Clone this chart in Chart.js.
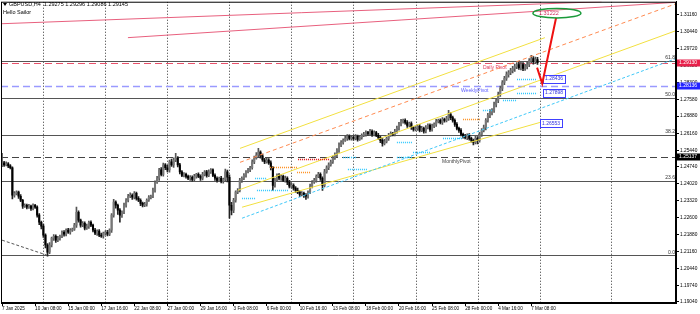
<!DOCTYPE html>
<html><head><meta charset="utf-8">
<script src="https://cdn.jsdelivr.net/npm/chart.js@4.4.1/dist/chart.umd.min.js"></script>
<style>html,body{margin:0;padding:0;background:#fff;overflow:hidden}canvas{display:block}</style>
</head><body>
<canvas id="c" width="700" height="314"></canvas>
<script>
// ---------- DATA ----------
const firstOpen = 1.2480;
const closes = [
 1.2491,1.2482,1.2487,1.2478,1.2470,1.2354,1.2362,1.2367,1.2350,1.2333,1.2308,1.2312,1.2304,1.2308,1.2299,1.2312,1.2304,1.2270,1.2240,1.2224,
 1.2186,1.2144,1.2114,1.2144,1.2173,1.2181,1.2165,1.2173,1.2181,1.2198,1.2190,1.2207,1.2198,1.2207,1.2211,1.2228,1.2282,1.2249,1.2228,1.2236,1.2215,1.2224,1.2240,1.2228,1.2207,1.2194,1.2203,1.2186,1.2181,1.2194,
 1.2198,1.2190,1.2207,1.2270,1.2325,1.2312,1.2291,1.2270,1.2282,1.2312,1.2333,1.2350,1.2354,1.2346,1.2362,1.2341,1.2333,1.2320,1.2312,1.2316,1.2333,1.2346,1.2350,1.2375,1.2409,1.2426,1.2461,1.2442,1.2482,1.2470,
 1.2461,1.2495,1.2482,1.2503,1.2511,1.2482,1.2453,1.2438,1.2442,1.2434,1.2426,1.2430,1.2421,1.2434,1.2442,1.2434,1.2426,1.2442,1.2453,1.2438,1.2453,1.2461,1.2438,1.2426,1.2417,1.2426,1.2413,1.2421,1.2453,1.2430,
 1.2312,1.2291,1.2333,1.2367,1.2375,1.2417,1.2426,1.2438,1.2453,1.2461,1.2470,1.2495,1.2511,1.2524,1.2536,1.2520,1.2503,1.2495,1.2503,1.2491,1.2470,1.2396,1.2417,1.2438,1.2426,1.2434,1.2417,1.2426,1.2409,1.2392,
 1.2396,1.2384,1.2375,1.2367,1.2358,1.2362,1.2354,1.2350,1.2367,1.2392,1.2409,1.2417,1.2434,1.2442,1.2426,1.2396,1.2453,1.2470,1.2482,1.2495,1.2511,1.2524,1.2544,1.2565,1.2577,1.2586,1.2594,1.2603,1.2594,1.2598,
 1.2594,1.2603,1.2590,1.2598,1.2607,1.2611,1.2619,1.2615,1.2624,1.2611,1.2619,1.2607,1.2598,1.2586,1.2573,1.2581,1.2594,1.2607,1.2615,1.2611,1.2624,1.2636,1.2653,1.2666,1.2670,1.2661,1.2649,1.2657,1.2640,1.2632,
 1.2636,1.2645,1.2628,1.2636,1.2624,1.2640,1.2649,1.2632,1.2645,1.2653,1.2666,1.2670,1.2661,1.2674,1.2670,1.2678,1.2695,1.2682,1.2670,1.2653,1.2636,1.2628,1.2611,1.2603,1.2598,1.2607,1.2594,1.2586,1.2577,1.2594,
 1.2586,1.2611,1.2628,1.2640,1.2670,1.2691,1.2704,1.2712,1.2737,1.2754,1.2779,1.2805,1.2830,1.2847,1.2863,1.2872,1.2880,1.2889,1.2897,1.2906,1.2893,1.2906,1.2889,1.2897,1.2906,1.2922,1.2931,1.2918,1.2927,1.2914
];
// wick lengths above / below the body, in pips
const wickUpPips = [
 40,6,8,5,6,4,8,6,5,7,4,6,5,8,5,6,4,5,7,5,
 8,5,6,10,5,7,6,8,5,6,7,5,8,6,5,8,22,6,5,7,6,8,5,6,4,7,5,6,8,5,
 6,8,5,7,12,6,5,7,6,9,7,8,10,6,8,5,7,6,5,8,6,7,5,9,6,8,7,10,8,6,
 10,8,12,9,20,6,7,5,8,6,5,7,6,8,5,7,6,9,5,6,8,6,5,7,6,5,8,6,12,7,
 10,12,8,6,7,9,6,8,5,7,6,9,8,10,16,6,8,7,9,6,8,5,10,6,8,7,5,9,6,8,
 8,6,7,9,6,8,5,7,6,9,7,8,6,9,7,6,10,8,9,7,8,9,7,10,8,6,9,7,6,8,
 6,7,5,8,6,9,7,5,8,6,7,5,8,6,7,9,6,8,7,5,8,10,9,8,6,7,8,6,7,5,
 8,6,7,9,6,8,7,6,9,7,8,6,7,8,6,9,17,8,6,7,8,6,7,5,8,6,7,6,5,9,
 8,9,7,10,8,9,12,8,10,9,11,10,8,9,12,8,10,9,11,8,10,9,8,10,12,9,14,8,10,9
];
const wickDnPips = [
 5,6,4,7,5,15,8,6,9,6,10,5,8,6,9,7,6,8,10,12,
 10,12,17,6,8,9,10,7,8,6,9,7,5,8,6,5,10,8,9,6,7,5,10,6,8,6,9,7,5,8,
 8,7,6,10,8,12,18,30,9,6,8,7,6,9,7,8,6,10,7,6,8,5,7,6,8,5,9,6,7,8,
 8,9,6,10,7,8,9,6,7,8,6,9,7,5,8,6,9,7,6,8,5,7,6,9,8,6,7,8,6,20,
 55,20,10,8,6,7,9,6,8,5,7,6,8,5,7,9,6,8,5,7,9,20,8,6,7,9,6,8,10,7,
 7,8,9,6,10,7,9,13,8,6,7,5,8,6,9,21,7,6,8,5,7,6,8,9,6,7,5,8,6,7,
 7,6,8,5,7,6,8,7,6,9,7,6,8,10,12,7,6,8,5,7,6,8,7,6,8,7,9,6,8,7,
 6,8,7,6,8,7,6,9,7,6,8,7,6,8,7,6,8,9,7,8,6,9,7,8,6,9,7,8,10,6,
 15,8,9,7,10,8,9,11,8,10,9,8,10,9,8,11,9,10,12,9,8,10,9,8,10,9,8,11,9,8
];
const xTickIndex = [0,16,32,48,64,80,96,112,128,144,160,176,192,208,224,240,256];
const xTickText = ["7 Jan 2025","10 Jan 08:00","15 Jan 00:00","17 Jan 16:00","22 Jan 08:00","27 Jan 00:00","29 Jan 16:00","3 Feb 08:00","6 Feb 00:00","10 Feb 16:00","13 Feb 08:00","18 Feb 00:00","20 Feb 16:00","25 Feb 08:00","28 Feb 00:00","4 Mar 16:00","7 Mar 08:00"];
const yTickValues = [1.19040,1.19740,1.20440,1.21160,1.21880,1.22600,1.23320,1.24020,1.24740,1.25440,1.26160,1.26880,1.27580,1.28300,1.29020,1.29720,1.30440,1.31160];
const weekSeparators = [20,50,80,110,140,170,200,230,260,294.6];
const fibLevels = [1.21014,1.24144,1.26080,1.27645,1.29210];
const fibNames = ["0.0","23.6","38.2","50.0","61.8"];
const pivotNames = ["Daily Pivot","WeeklyPivot","MonthlyPivot"];
const pivotValues = [1.29130,1.28136,1.25137];
const pivotLabelAt = [232.6,222,212.8];
// trend lines: [index1, price1, index2, price2]
const pinkLines = [[0,1.3078,290,1.3171],[60.9,1.30192,326,1.31683]];
const orangeLines = [[115.1,1.24930,326,1.31624]];
const yellowLines = [[115.1,1.25519,262.6,1.30192],[114.1,1.23751,326,1.30487],[116.1,1.23036,260.2,1.26614]];
const cyanLines = [[116.1,1.22572,326,1.29308]];
const greyLines = [[0,1.21646,21.7,1.21014]];
// dotted level segments: [index1, index2, price]
const cyanDots = [[116.1,122.4,1.23414],[122.4,128.2,1.24256],[123.3,138.3,1.23751],[164.9,171.7,1.25140],[167.3,176.5,1.24635],[191,198.3,1.25772],[191,198.3,1.25140],[198.8,207,1.25351],[213.3,223,1.25940],[232.6,237.5,1.27119],[242.3,249.1,1.27540],[249.1,258.8,1.28466],[249.1,258.8,1.27877]];
const orangeDots = [[129.6,142.7,1.24719],[142.7,149,1.24509],[223,231.2,1.26740]];
const redDots = [[143.2,158.6,1.25056]];
const arrowPath = [[258.8,1.28929],[261.3,1.28256],[268.0,1.31034]];
const targetAt = [268.4,1.31224];
const targetText = "1.31222";
const levelBoxes = [[261.7,1.28466,"1.28436"],[261.7,1.27877,"1.27898"],[260.2,1.26572,"1.26553"]];
const headerText = "GBPUSD,H4  1.29275 1.29296 1.29086 1.29145";

// ---------- BUILD ----------
const N = closes.length;
if (wickUpPips.length !== N || wickDnPips.length !== N) throw new Error("len " + N + " " + wickUpPips.length + " " + wickDnPips.length);
const opens = closes.map((c,i)=> i===0 ? firstOpen : closes[i-1]);
const highs = closes.map((c,i)=> Math.max(c,opens[i]) + wickUpPips[i]/10000);
const lows = closes.map((c,i)=> Math.min(c,opens[i]) - wickDnPips[i]/10000);
const bull = closes.map((c,i)=> c >= opens[i]);

const FONT = "'Liberation Sans','DejaVu Sans',sans-serif";

const drawPlugin = {
  id:'mt4',
  beforeDatasetsDraw(chart){
    const {ctx, chartArea:a, scales:{x:xs,y:ys}} = chart;
    const X=i=>xs.getPixelForValue(i), Y=p=>ys.getPixelForValue(p);
    ctx.save();
    ctx.beginPath(); ctx.rect(a.left,a.top,a.right-a.left,a.bottom-a.top); ctx.clip();
    ctx.strokeStyle='#333'; ctx.lineWidth=1; ctx.setLineDash([1,2]);
    weekSeparators.forEach(i=>{const x=Math.round(X(i))+0.5; ctx.beginPath(); ctx.moveTo(x,a.top); ctx.lineTo(x,a.bottom); ctx.stroke();});
    ctx.setLineDash([]); ctx.strokeStyle='#555';
    fibLevels.forEach(p=>{const y=Math.round(Y(p))+0.5; ctx.beginPath(); ctx.moveTo(a.left,y); ctx.lineTo(a.right,y); ctx.stroke();});
    const pcol=['#e8506a','#9a9aff','#444'];
    pivotValues.forEach((p,k)=>{const y=Math.round(Y(p))+0.5; ctx.strokeStyle=pcol[k]; ctx.lineWidth=k===1?1.5:1; ctx.setLineDash([7,4]); ctx.beginPath(); ctx.moveTo(a.left,y); ctx.lineTo(a.right,y); ctx.stroke();});
    ctx.restore();
  },
  afterDatasetsDraw(chart){
    const {ctx, chartArea:a, scales:{x:xs,y:ys}} = chart;
    const X=i=>xs.getPixelForValue(i), Y=p=>ys.getPixelForValue(p);
    ctx.save();
    ctx.beginPath(); ctx.rect(a.left,a.top,a.right-a.left,a.bottom-a.top); ctx.clip();
    const seg=(L,col,dash,w)=>{L.forEach(l=>{ctx.strokeStyle=col; ctx.lineWidth=w; ctx.setLineDash(dash); ctx.beginPath(); ctx.moveTo(X(l[0]),Y(l[1])); ctx.lineTo(X(l[2]),Y(l[3])); ctx.stroke();});};
    seg(pinkLines,'#e8607e',[],1);
    seg(yellowLines,'#f2e040',[],1);
    seg(orangeLines,'#ff8a50',[4,3],1);
    seg(cyanLines,'#40c8f8',[3,2],1);
    seg(greyLines,'#555',[3,2],1);
    const dots=(L,col)=>{L.forEach(d=>{ctx.strokeStyle=col; ctx.lineWidth=1.5; ctx.setLineDash([1,1]); const y=Math.round(Y(d[2]))+0.5; ctx.beginPath(); ctx.moveTo(X(d[0]),y); ctx.lineTo(X(d[1]),y); ctx.stroke();});};
    dots(cyanDots,'#30c8ff'); dots(orangeDots,'#ff9020'); dots(redDots,'#e01010');
    ctx.setLineDash([]);
    ctx.font='5px '+FONT; ctx.fillStyle='#333'; ctx.textAlign='right'; ctx.textBaseline='bottom';
    fibLevels.forEach((p,k)=>ctx.fillText(fibNames[k],a.right-1,Y(p)-0.5));
    const tcol=['#e04060','#6060ff','#444'];
    ctx.textAlign='left'; ctx.textBaseline='top';
    pivotValues.forEach((p,k)=>{ctx.fillStyle=tcol[k]; ctx.fillText(pivotNames[k],X(pivotLabelAt[k]),Y(p)+2);});
    levelBoxes.forEach(b=>{const x=X(b[0]), y=Y(b[1]); const w=ctx.measureText(b[2]).width+4; ctx.fillStyle='#fff'; ctx.fillRect(x,y-4,w,8); ctx.strokeStyle='#4040ff'; ctx.lineWidth=1; ctx.strokeRect(Math.round(x)+0.5,Math.round(y-4)+0.5,Math.round(w),8); ctx.fillStyle='#3030e0'; ctx.textBaseline='middle'; ctx.fillText(b[2],x+2,y);});
    ctx.strokeStyle='#ee1111'; ctx.lineWidth=2; ctx.beginPath();
    arrowPath.forEach((p,k)=>{k?ctx.lineTo(X(p[0]),Y(p[1])):ctx.moveTo(X(p[0]),Y(p[1]));}); ctx.stroke();
    const cx=X(targetAt[0]), cy=Y(targetAt[1]);
    ctx.strokeStyle='#1a9a3a'; ctx.lineWidth=1.5; ctx.beginPath(); ctx.ellipse(cx,cy,24,4.8,0,0,Math.PI*2); ctx.stroke();
    ctx.fillStyle='#d03060'; ctx.font='5.5px '+FONT; ctx.textAlign='center'; ctx.textBaseline='middle';
    ctx.fillText(targetText,cx-8,cy);
    ctx.restore();
  },
  afterDraw(chart){
    const {ctx, chartArea:a, scales:{y:ys}} = chart;
    ctx.save();
    ctx.strokeStyle='#000'; ctx.lineWidth=1; ctx.strokeRect(a.left+0.5,a.top+0.5,a.right-a.left-1,a.bottom-a.top-1);
    const bcol=['#e8204a','#2424ff','#000'];
    ctx.font='5px '+FONT; ctx.textAlign='left'; ctx.textBaseline='middle';
    pivotValues.forEach((p,k)=>{const y=Math.round(ys.getPixelForValue(p)); ctx.fillStyle=bcol[k]; ctx.fillRect(a.right+1,y-3.5,23,7); ctx.fillStyle='#fff'; ctx.fillText(p.toFixed(5),a.right+3,y);});
    ctx.fillStyle='#000'; ctx.font='5.5px '+FONT; ctx.textBaseline='middle';
    ctx.beginPath(); ctx.moveTo(3,3); ctx.lineTo(7,3); ctx.lineTo(5,6); ctx.closePath(); ctx.fill();
    ctx.fillText(headerText,9,4.5);
    ctx.fillText("Hello Sailor",3,12.5);
    ctx.restore();
  }
};

const wickData = closes.map((c,i)=>({x:i,y:[lows[i],highs[i]]}));
const bodyData = closes.map((c,i)=>({x:i,y:[opens[i],c]}));

new Chart(document.getElementById('c'),{
  type:'bar',
  data:{datasets:[
    {data:wickData, backgroundColor:bull.map(b=>b?'#555':'#222'), barThickness:1, grouped:false, borderWidth:0, order:2},
    {data:bodyData, backgroundColor:bull.map(b=>b?'#777':'#000'), barThickness:1.4, grouped:false, borderWidth:0, order:1}
  ]},
  options:{
    responsive:false, animation:false, devicePixelRatio:1,
    layout:{padding:{left:1,top:1,right:0,bottom:0}},
    plugins:{legend:{display:false},tooltip:{enabled:false}},
    scales:{
      x:{type:'linear', min:-0.5, max:326, position:'bottom', offset:false,
         afterBuildTicks:s=>{s.ticks=xTickIndex.map(v=>({value:v}));},
         afterFit:s=>{s.height=11;},
         ticks:{callback:v=>xTickText[xTickIndex.indexOf(v)], align:'start', autoSkip:false, maxRotation:0, padding:0, color:'#000', font:{family:FONT,size:4.6,lineHeight:1}},
         grid:{display:true, offset:false, drawOnChartArea:false, drawTicks:true, tickLength:3, color:'#000'},
         border:{display:true,color:'#000'}},
      y:{type:'linear', position:'right', min:1.18994, max:1.31708,
         afterBuildTicks:s=>{s.ticks=yTickValues.map(v=>({value:v}));},
         afterFit:s=>{s.width=24;},
         ticks:{callback:v=>v.toFixed(5), padding:1, color:'#000', font:{family:FONT,size:4.8,lineHeight:0.3}},
         grid:{display:true, drawOnChartArea:false, drawTicks:true, tickLength:3, color:'#000'},
         border:{display:true,color:'#000'}}
    }
  },
  plugins:[drawPlugin]
});
</script></body></html>
